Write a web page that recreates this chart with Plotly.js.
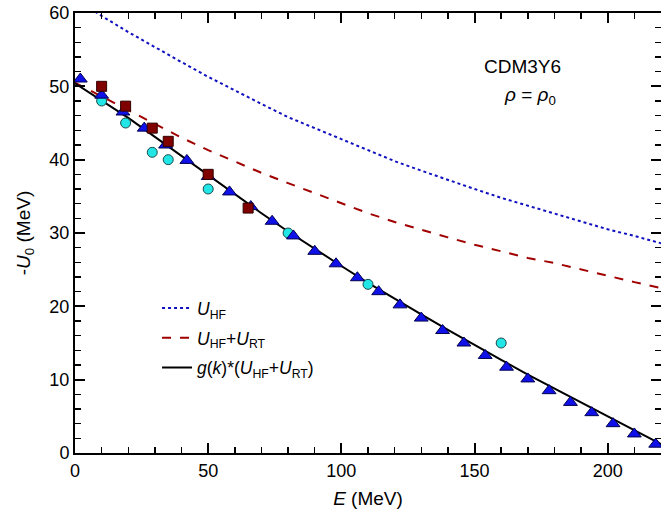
<!DOCTYPE html>
<html>
<head>
<meta charset="utf-8">
<script src="https://cdn.plot.ly/plotly-3.0.1.min.js"></script>
<style>html,body{margin:0;padding:0;background:#fff;}#chart{width:661px;height:522px;}</style>
</head>
<body>
<div id="chart"></div>
<script>
// Curves
const curveE   = [0,10,20,30,40,50,60,70,80,90,100,110,120,130,140,150,160,170,180,190,200,210,220];
const uHF      = [62.0,59.6,57.4,55.3,53.3,51.3,49.4,47.6,45.8,44.3,42.7,41.2,39.8,38.5,37.2,36.0,34.8,33.7,32.6,31.6,30.5,29.6,28.6];
const uHFRT    = [50.5,48.6,46.7,44.8,43.0,41.3,39.7,38.2,36.8,35.4,34.0,32.7,31.5,30.4,29.4,28.4,27.5,26.6,25.9,25.0,24.1,23.3,22.5];
const gUHFRT   = [50.4,48.1,45.7,43.1,40.5,37.8,35.2,32.7,30.2,27.8,25.5,23.2,21.0,18.9,16.8,14.7,12.7,10.7,8.8,6.9,5.0,3.1,1.2];

// Triangles
const triE = [2,10,18,26,34,42,50,58,66,74,82,90,98,106,114,122,130,138,146,154,162,170,178,186,194,202,210,218];
const triU = [51.0,48.8,46.5,44.3,42.0,39.9,37.7,35.6,33.6,31.6,29.6,27.5,25.8,23.9,22.0,20.2,18.4,16.7,15.0,13.3,11.7,10.1,8.5,6.9,5.5,4.0,2.6,1.2];

// Squares
const sqE = [10,19,29,35,50,65];
const sqU = [50.0,47.3,44.3,42.5,38.0,33.4];

// Circles
const cirE = [10,19,29,35,50,80,110,160];
const cirU = [48.0,45.0,41.0,40.0,36.0,30.0,23.0,15.0];

const legendNames = ['<i>U</i><sub>HF</sub>', '<i>U</i><sub>HF</sub>+<i>U</i><sub>RT</sub>', '<i>g</i>(<i>k</i>)*(<i>U</i><sub>HF</sub>+<i>U</i><sub>RT</sub>)'];

const FONT = '"Liberation Sans", Arial, sans-serif';

const traces = [
  {x: curveE, y: uHF, mode: 'lines', name: legendNames[0], legendgroup: 'a',
   line: {color: '#1010c0', width: 2, dash: 'dot'}},
  {x: curveE, y: uHFRT, mode: 'lines', name: legendNames[1], legendgroup: 'b',
   line: {color: '#a00000', width: 2, dash: 'dash'}},
  {x: curveE, y: gUHFRT, mode: 'lines', name: legendNames[2], legendgroup: 'c',
   line: {color: '#000000', width: 2}},
  {x: cirE, y: cirU, mode: 'markers', showlegend: false,
   marker: {symbol: 'circle', size: 10, color: '#22e6e6', line: {color: '#1a4a4a', width: 1}}},
  {x: triE, y: triU, mode: 'markers', showlegend: false,
   marker: {symbol: 'triangle-up', size: 12, color: '#1010e8', line: {color: '#000050', width: 1}}},
  {x: sqE, y: sqU, mode: 'markers', showlegend: false,
   marker: {symbol: 'square', size: 10, color: '#800000', line: {color: '#300000', width: 1}}}
];

const layout = {
  width: 661, height: 522,
  margin: {l: 75, r: 0, t: 13, b: 69},
  paper_bgcolor: '#fff', plot_bgcolor: '#fff',
  font: {family: FONT, size: 18, color: '#000'},
  showlegend: true,
  legend: {x: 0.14, y: 0.37, xanchor: 'left', yanchor: 'top', bgcolor: 'rgba(0,0,0,0)',
           font: {family: FONT, size: 17.5, color: '#000'}, tracegroupgap: 4},
  xaxis: {
    range: [0, 220], dtick: 50, tick0: 0,
    ticks: 'inside', ticklen: 10, tickwidth: 2, tickcolor: '#000',
    minor: {dtick: 10, ticks: 'inside', ticklen: 6, tickwidth: 1.5, tickcolor: '#000'},
    showline: true, linecolor: '#000', linewidth: 2, mirror: 'ticks',
    showgrid: false, zeroline: false,
    tickfont: {family: FONT, size: 18},
    title: {text: '<i>E</i> (MeV)', font: {family: FONT, size: 19}, standoff: 12}
  },
  yaxis: {
    range: [0, 60], dtick: 10, tick0: 0,
    ticks: 'inside', ticklen: 10, tickwidth: 2, tickcolor: '#000',
    minor: {dtick: 2, ticks: 'inside', ticklen: 6, tickwidth: 1.5, tickcolor: '#000'},
    showline: true, linecolor: '#000', linewidth: 2, mirror: 'ticks',
    showgrid: false, zeroline: false,
    tickfont: {family: FONT, size: 18},
    title: {text: '-<i>U</i><sub>0</sub> (MeV)', font: {family: FONT, size: 19}, standoff: 14}
  },
  annotations: [
    {xref: 'paper', yref: 'paper', x: 0.7645, y: 0.878, text: 'CDM3Y6', showarrow: false,
     font: {family: FONT, size: 19, color: '#000'}, xanchor: 'center', yanchor: 'middle'},
    {xref: 'paper', yref: 'paper', x: 0.7765, y: 0.812, text: '<i>ρ</i> = <i>ρ</i><sub>0</sub>', showarrow: false,
     font: {family: FONT, size: 19, color: '#000'}, xanchor: 'center', yanchor: 'middle'}
  ]
};

Plotly.newPlot('chart', traces, layout, {displayModeBar: false, staticPlot: true});
</script>
</body>
</html>
